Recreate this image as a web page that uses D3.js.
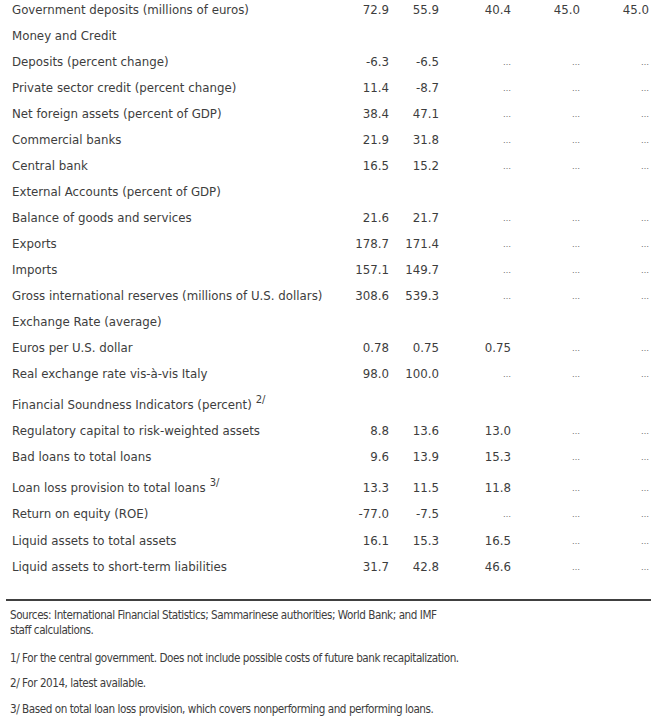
<!DOCTYPE html>
<html><head><meta charset="utf-8">
<script src="https://cdn.jsdelivr.net/npm/d3@7"></script>
<style>body{margin:0;background:#fff}</style></head>
<body><svg id="c" width="660" height="717"></svg>
<script>
// ---- data ----
const rowLabels = [
  "Government deposits (millions of euros)",
  "Money and Credit",
  "Deposits (percent change)",
  "Private sector credit (percent change)",
  "Net foreign assets (percent of GDP)",
  "Commercial banks",
  "Central bank",
  "External Accounts (percent of GDP)",
  "Balance of goods and services",
  "Exports",
  "Imports",
  "Gross international reserves (millions of U.S. dollars)",
  "Exchange Rate (average)",
  "Euros per U.S. dollar",
  "Real exchange rate vis-à-vis Italy",
  "Financial Soundness Indicators (percent)",
  "Regulatory capital to risk-weighted assets",
  "Bad loans to total loans",
  "Loan loss provision to total loans",
  "Return on equity (ROE)",
  "Liquid assets to total assets",
  "Liquid assets to short-term liabilities"
];
const rowNotes = ["","","","","","","","","","","","","","","","2/","","","3/","","",""];
const columns = ["2012","2013","2014","2015","2016"];
// null = header row (blank), "..." = not available
const col2012 = ["72.9",null,"-6.3","11.4","38.4","21.9","16.5",null,"21.6","178.7","157.1","308.6",null,"0.78","98.0",null,"8.8","9.6","13.3","-77.0","16.1","31.7"];
const col2013 = ["55.9",null,"-6.5","-8.7","47.1","31.8","15.2",null,"21.7","171.4","149.7","539.3",null,"0.75","100.0",null,"13.6","13.9","11.5","-7.5","15.3","42.8"];
const col2014 = ["40.4",null,"...","...","...","...","...",null,"...","...","...","...",null,"0.75","...",null,"13.0","15.3","11.8","...","16.5","46.6"];
const col2015 = ["45.0",null,"...","...","...","...","...",null,"...","...","...","...",null,"...","...",null,"...","...","...","...","...","..."];
const col2016 = ["45.0",null,"...","...","...","...","...",null,"...","...","...","...",null,"...","...",null,"...","...","...","...","...","..."];
const colValues = [col2012, col2013, col2014, col2015, col2016];
const sourceLines = ["Sources: International Financial Statistics; Sammarinese authorities; World Bank; and IMF", "staff calculations."];
const footnotes = [
  "1/ For the central government. Does not include possible costs of future bank recapitalization.",
  "2/ For 2014, latest available.",
  "3/ Based on total loan loss provision, which covers nonperforming and performing loans."
];

// ---- layout ----
const svg = d3.select("#c");
const textColor = "#3d3d3d";
const bodyFont = "DejaVu Sans";
const nRows = rowLabels.length;

const yBase = d3.scaleLinear().domain([0, nRows - 1]).range([13.5, 13.5 + 26.05 * (nRows - 1)]);
let extra = 0;
const rowY = rowLabels.map((d, i) => { if (rowNotes[i]) extra += 5; return yBase(i) + extra; });

const x = d3.scaleOrdinal().domain(columns).range([389, 439, 511, 580, 649]);

const rows = svg.append("g").selectAll("g.row")
  .data(rowLabels.map((label, i) => ({label, i, note: rowNotes[i], y: rowY[i]})))
  .join("g").attr("class", "row").attr("transform", d => `translate(0,${d.y})`);

const lbl = rows.append("text")
  .attr("x", 12)
  .style("font-family", bodyFont).style("font-size", "11.8px").style("fill", textColor)
  .text(d => d.label);
lbl.filter(d => d.note).append("tspan")
  .attr("dx", 4).attr("dy", -6)
  .style("font-size", "10px")
  .text(d => d.note);

rows.each(function(r) {
  const g = d3.select(this);
  columns.forEach((c, ci) => {
    const v = colValues[ci][r.i];
    if (v == null) return;
    if (v === "...") {
      g.append("text").attr("x", x(c)).attr("y", -1).attr("text-anchor", "end")
        .style("font-family", bodyFont).style("font-size", "8px").style("fill", "#6a6a6a")
        .text("\u2026");
    } else {
      g.append("text").attr("x", x(c)).attr("text-anchor", "end")
        .style("font-family", bodyFont).style("font-size", "11.8px").style("fill", textColor)
        .text(v);
    }
  });
});

// rule
svg.append("line").attr("x1", 6).attr("x2", 651).attr("y1", 600).attr("y2", 600)
  .attr("stroke", "#000").attr("stroke-width", 1.5);

const noteFont = "DejaVu Sans Condensed";
const noteStyle = sel => sel.style("font-family", noteFont).style("font-size", "11.6px")
  .style("letter-spacing", "-0.45px").style("fill", textColor);

svg.append("g").selectAll("text").data(sourceLines).join("text")
  .attr("x", 10).attr("y", (d, i) => 619.3 + i * 14.7)
  .call(noteStyle).text(d => d);

svg.append("g").selectAll("text").data(footnotes).join("text")
  .attr("x", 10).attr("y", (d, i) => 661.7 + i * 25.5)
  .call(noteStyle).text(d => d);
</script></body></html>
